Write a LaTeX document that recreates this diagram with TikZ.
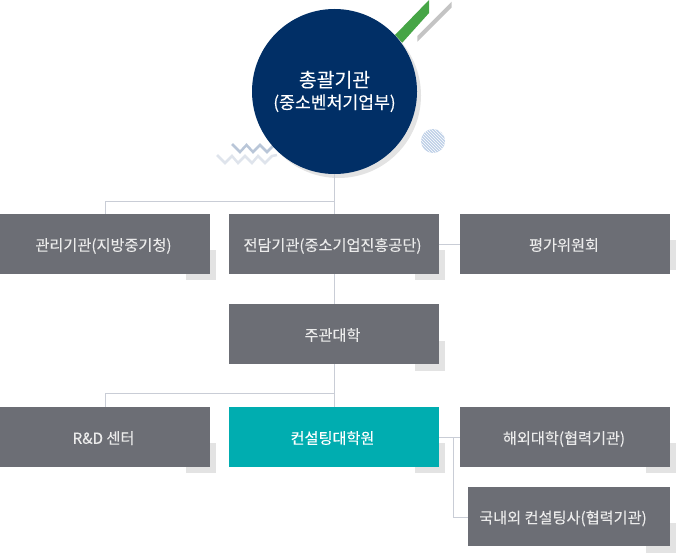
\documentclass[tikz,border=0pt]{standalone}
\usepackage{fontspec}
\setmainfont{Noto Sans CJK KR}
\newfontfamily\labelfont[FakeBold=0.12]{Noto Sans CJK KR}
\usetikzlibrary{patterns}
\definecolor{boxgray}{HTML}{6C6E75}
\definecolor{shadegray}{HTML}{E3E3E3}
\definecolor{linegray}{HTML}{C9CDD6}
\definecolor{navy}{HTML}{012F66}
\definecolor{teal}{HTML}{00ADB0}
\definecolor{leaf}{HTML}{46A546}
\definecolor{zigdark}{HTML}{B9C6D8}
\definecolor{ziglight}{HTML}{DFE4EC}
\definecolor{dotblue}{HTML}{A9C0E0}
\tikzset{
    orgbox/.style={fill=boxgray, text=white!92!black, minimum width=210pt, minimum height=60pt, inner sep=0pt, text height=15pt, text depth=1.4pt, font=\labelfont\fontsize{15.2}{17}\selectfont},
    shade/.style={fill=shadegray, draw=none},
    link/.style={draw=linegray, line width=1pt},
}
\begin{document}
\begin{tikzpicture}[x=1pt, y=-1pt]
    \useasboundingbox (0,0) rectangle (676,553);
    % stripes and zigzags behind the circle
    \fill [leaf] (429,0)--(429,13)--(402,43)--(395,35)--cycle;
    \fill [black!23] (451.7,1.7)--(451.7,7.3)--(417.3,41.7)--(417.3,36)--cycle;
    \draw [zigdark, line width=2.5pt] (232,144)--(240,152)--(246.5,145)--(253,152)--(260,145)--(267,152)--(274,145)--(281,152);
    \draw [ziglight, line width=2.5pt] (217,155)--(225,163)--(232,156)--(238,163)--(245,156)--(252,163)--(258,156)--(265,163)--(272,156)--(277,155);
    \fill [dotblue!75] (433,141) circle (12);
    \fill [pattern=north west lines, pattern color=white] (433,141) circle (12);
    % shadows
    \fill [shade] (338.5,95.5) circle (82.5);
    \fill [shade] (186,250) rectangle (216,280);
    \fill [shade] (415,250) rectangle (445,280);
    \fill [shade] (646,240) rectangle (676,270);
    \fill [shade] (415,341) rectangle (445,371);
    \fill [shade] (186,443) rectangle (216,473);
    \fill [shade] (415,443) rectangle (445,473);
    \fill [shade] (646,443) rectangle (676,473);
    \fill [shade] (646,523) rectangle (676,553);
    % connectors
    \coordinate (upper) at (334.5,202);
    \coordinate (lower) at (334.5,393);
    \coordinate (fork) at (453,437);
    \coordinate (adminTop) at (105,214);
    \coordinate (rndTop) at (105,407);
    \coordinate (kukTurn) at (453,517);
    \coordinate (consultMid) at (439,437);
    \coordinate (kukLeft) at (468,517);
    \coordinate (hub) at (334.5,91.5);
    \coordinate (consultTop) at (334.5,407);
    \draw [link] (hub)--(consultTop);
    \draw [link] (upper)-|(adminTop);
    \draw [link] (lower)-|(rndTop);
    \draw [link] (439,244)--(460,244);
    \draw [link] (consultMid)--(460,437);
    \draw [link] (fork)--(kukTurn)--(kukLeft);
    % main circle
    \node [circle, fill=navy, text=white, minimum size=165pt, inner sep=0pt, align=center] (top) at (334.5,91.5) {{\labelfont\fontsize{19.4}{23}\selectfont 총괄기관}\\[5pt]{\labelfont\fontsize{17.2}{19}\selectfont (중소벤처기업부)}};
    % boxes
    \node [orgbox] (admin) at (105,244) {관리기관(지방중기청)\hspace*{3pt}};
    \node [orgbox] (agency) at (334,244) {전담기관(중소기업진흥공단)\hspace*{3pt}};
    \node [orgbox] (review) at (565,244) {평가위원회\hspace*{2pt}};
    \node [orgbox] (host) at (334,334) {주관대학\hspace*{3pt}};
    \node [orgbox] (rnd) at (105,437) {R\&D 센터\hspace*{3pt}};
    \node [orgbox, fill=teal, text=white] (grad) at (334,437) {컨설팅대학원\hspace*{3pt}};
    \node [orgbox] (abroad) at (565,437) {해외대학(협력기관)\hspace*{2pt}};
    \node [orgbox, minimum width=202pt, minimum height=59pt] (domestic) at (569,516.5) {국내외 컨설팅사(협력기관)\hspace*{12pt}};
\end{tikzpicture}
\end{document}
